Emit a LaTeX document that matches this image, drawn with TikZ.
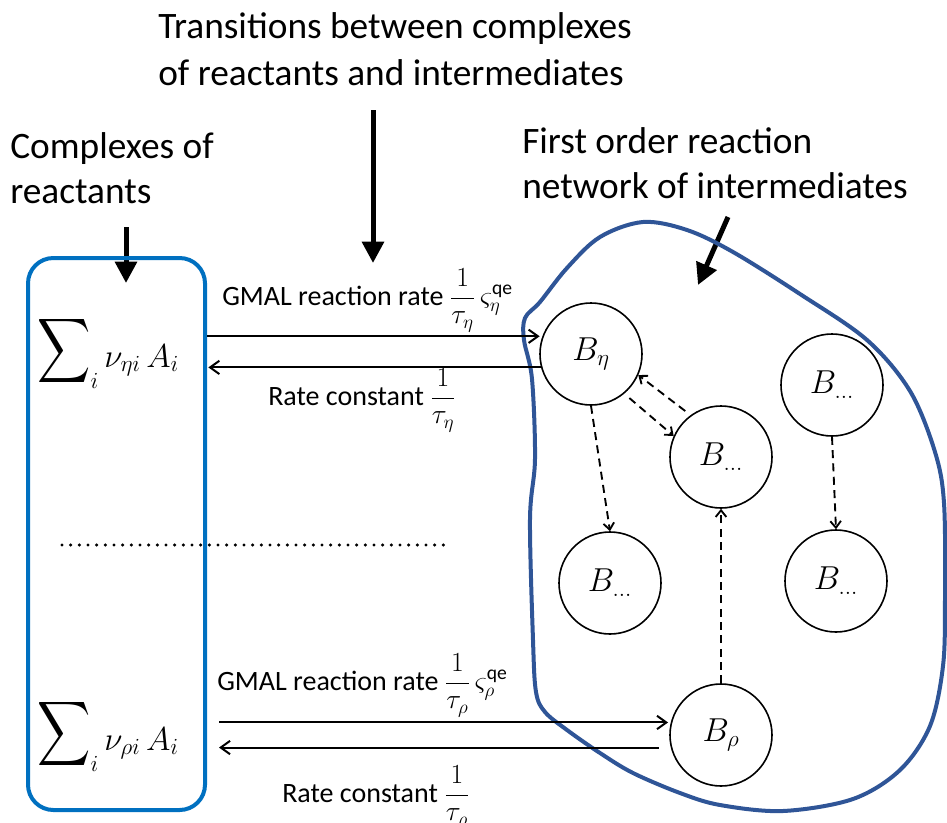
\documentclass[tikz,border=0pt]{standalone}
\usepackage{fontspec}
\setmainfont{Carlito}
\usepackage{graphicx}
\usepackage{amsmath}
\usetikzlibrary{arrows.meta}
\definecolor{boxblue}{HTML}{0070C0}
\definecolor{blobblue}{HTML}{2F5597}
\newsavebox\sumglyphbox
\newcommand\mybigsum{\sbox\sumglyphbox{\resizebox*{40pt}{54pt}{$\displaystyle\sum$}}\raisebox{\dimexpr\dp\sumglyphbox-15pt\relax}{\usebox\sumglyphbox}}
\newcommand\ratemath[1]{{\fontsize{21}{25}\selectfont$#1$}}
\begin{document}
\begin{tikzpicture}[x=0.75pt,y=-0.75pt,
  heading/.style={font=\fontsize{28}{35}\selectfont, anchor=base west, inner sep=0},
  ratelabel/.style={font=\fontsize{21}{25}\selectfont, anchor=base west, inner sep=0},
  sumlabel/.style={font=\fontsize{27}{30}\selectfont, anchor=base west, inner sep=0},
  species/.style={circle, draw, line width=1.2pt, minimum size=76.5pt, inner sep=0, font=\fontsize{25}{28}\selectfont},
  bigarrow/.style={line width=3.75pt, -{Triangle[length=16pt,width=16pt]}},
  flow/.style={line width=1.5pt, -{Straight Barb[length=7pt,width=10pt]}},
  react/.style={line width=1.4pt, dash pattern=on 6pt off 4pt, -{Straight Barb[length=5pt,width=8pt]}},
]
\useasboundingbox (0,0) rectangle (947,822);

% headings
\node[heading] (h1a) at (158,38) {Transitions between complexes};
\node[heading] (h1b) at (158,85) {of reactants and intermediates};
\node[heading] (h2a) at (10,158) {Complexes of};
\node[heading] (h2b) at (10,203) {reactants};
\node[heading] (h3a) at (522,153) {First order reaction};
\node[heading] (h3b) at (522,198) {network of intermediates};

% pointer arrows
\coordinate (p1s) at (373,110); \coordinate (p1e) at (373,263);
\coordinate (p2s) at (126,227); \coordinate (p2e) at (126,283);
\coordinate (p3s) at (728,217); \coordinate (p3e) at (698,285);
\draw[bigarrow] (p1s) -- (p1e);
\draw[bigarrow] (p2s) -- (p2e);
\draw[bigarrow] (p3s) -- (p3e);

% reactant complexes box
\node[draw=boxblue, line width=3pt, rounded corners=19pt, minimum width=132.75pt, minimum height=414pt, inner sep=0] (box) at (116.5,534) {};
\node[sumlabel] (sumEta) at (37,367) {$\mathop{\mybigsum}\nolimits_{i}\nu_{\eta i}\,A_i$};
\node[sumlabel] (sumRho) at (37,750) {$\mathop{\mybigsum}\nolimits_{i}\nu_{\rho i}\,A_i$};

% dotted separator
\coordinate (d1) at (62,545); \coordinate (d2) at (445,545);
\draw[line width=2.6pt, line cap=round, dash pattern=on 0pt off 6.5pt] (d1) -- (d2);

% intermediates network region
\draw[blobblue, line width=3pt] plot[smooth cycle, tension=0.55] coordinates {
 (525,318) (540,302) (567,268) (600,237) (643,222) (687,230) (733,252) (800,294)
 (867,340) (910,391) (935,452) (944,503) (945,599) (943,666) (930,726) (900,770)
 (853,799) (783,811) (720,805) (680,793) (633,773) (600,753) (567,730) (545,712)
 (536,692) (533,640) (530,519) (535,459) (532,379) (524,340)};

% species
\node[species] (eta) at (591,354) {$B_{\eta}$};
\node[species] (mid) at (721,457) {$B_{\ldots}$};
\node[species] (rt)  at (832,385) {$B_{\ldots}$};
\node[species] (bl)  at (610,583) {$B_{\ldots}$};
\node[species] (br)  at (836,581) {$B_{\ldots}$};
\node[species] (rho) at (721,735) {$B_{\rho}$};

% transitions
\draw[flow, shorten >=2pt] (eta.160 -| box.east) -- (eta.160);
\draw[flow, shorten >=1pt] (eta.195) -- (eta.195 -| box.east);
\draw[flow, shorten <=9pt, shorten >=2pt] (rho.166 -| box.east) -- (rho.166);
\draw[flow, shorten <=9pt, shorten >=9pt] (rho.194) -- (rho.194 -| box.east);

\node[ratelabel] (lEta1) at (222,305) {GMAL reaction rate \ratemath{\dfrac{1}{\tau_{\eta}}\,\varsigma_{\eta}^{\mathrm{qe}}}};
\node[ratelabel] (lEta2) at (268,405) {Rate constant \ratemath{\dfrac{1}{\tau_{\eta}}}};
\node[ratelabel] (lRho1) at (217,690) {GMAL reaction rate \ratemath{\dfrac{1}{\tau_{\rho}}\,\varsigma_{\rho}^{\mathrm{qe}}}};
\node[ratelabel] (lRho2) at (282,802) {Rate constant \ratemath{\dfrac{1}{\tau_{\rho}}}};

% first order reactions
\draw[react, shorten <=5pt] (eta.-50) -- (mid.156);
\draw[react, shorten <=5pt] (mid.126) -- (eta.-24);
\draw[react] (eta.south) -- (bl.north);
\draw[react] (rho.north) -- (mid.south);
\draw[react] (rt.south) -- (br.north);
\end{tikzpicture}
\end{document}
